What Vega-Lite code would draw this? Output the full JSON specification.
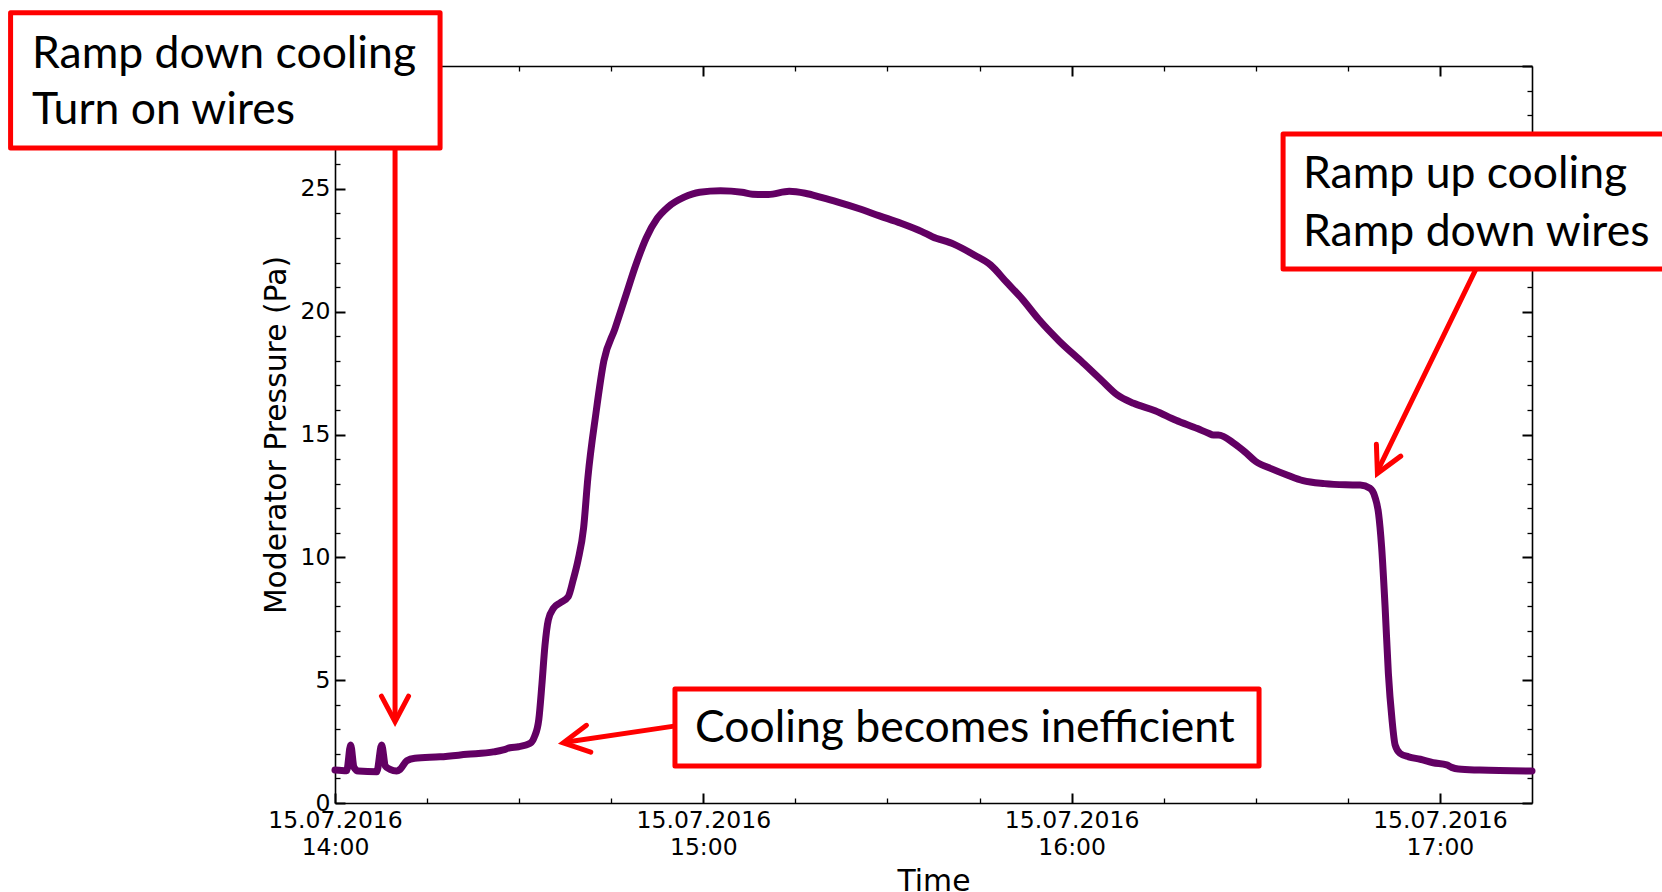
{
  "$schema": "https://vega.github.io/schema/vega-lite/v6.json",
  "autosize": {"type": "none"},
  "padding": {"left": 335, "top": 66, "right": 130, "bottom": 89},
  "width": 1197,
  "height": 737,
  "background": "white",
  "config": {
    "view": {"stroke": null},
    "font": "DejaVu Sans",
    "axis": {
      "grid": false,
      "domainColor": "black",
      "domainWidth": 1.6,
      "tickColor": "black",
      "labelColor": "black",
      "titleColor": "black",
      "labelFont": "DejaVu Sans",
      "titleFont": "DejaVu Sans",
      "labelFontSize": 23.5,
      "titleFontSize": 29.8,
      "titleFontWeight": "normal",
      "labelFlush": false,
      "labelOverlap": false,
      "labelBound": false
    }
  },
  "datasets": {
    "curve": [
      {"t": "2016-07-15T14:00:00", "v": 1.34},
      {"t": "2016-07-15T14:01:54", "v": 1.31},
      {"t": "2016-07-15T14:02:33", "v": 2.36},
      {"t": "2016-07-15T14:03:06", "v": 1.45},
      {"t": "2016-07-15T14:03:48", "v": 1.30},
      {"t": "2016-07-15T14:06:48", "v": 1.27},
      {"t": "2016-07-15T14:07:36", "v": 2.36},
      {"t": "2016-07-15T14:08:12", "v": 1.51},
      {"t": "2016-07-15T14:08:58", "v": 1.37},
      {"t": "2016-07-15T14:10:03", "v": 1.30},
      {"t": "2016-07-15T14:10:36", "v": 1.37},
      {"t": "2016-07-15T14:11:42", "v": 1.72},
      {"t": "2016-07-15T14:13:00", "v": 1.82},
      {"t": "2016-07-15T14:17:06", "v": 1.88},
      {"t": "2016-07-15T14:21:30", "v": 1.98},
      {"t": "2016-07-15T14:25:48", "v": 2.08},
      {"t": "2016-07-15T14:27:24", "v": 2.16},
      {"t": "2016-07-15T14:28:30", "v": 2.25},
      {"t": "2016-07-15T14:29:54", "v": 2.29},
      {"t": "2016-07-15T14:31:48", "v": 2.43},
      {"t": "2016-07-15T14:32:30", "v": 2.70},
      {"t": "2016-07-15T14:33:12", "v": 3.40},
      {"t": "2016-07-15T14:33:42", "v": 4.80},
      {"t": "2016-07-15T14:34:12", "v": 6.40},
      {"t": "2016-07-15T14:34:45", "v": 7.45},
      {"t": "2016-07-15T14:35:36", "v": 7.93},
      {"t": "2016-07-15T14:36:42", "v": 8.15},
      {"t": "2016-07-15T14:38:00", "v": 8.40},
      {"t": "2016-07-15T14:38:48", "v": 9.08},
      {"t": "2016-07-15T14:39:36", "v": 9.89},
      {"t": "2016-07-15T14:40:30", "v": 11.2},
      {"t": "2016-07-15T14:41:12", "v": 13.25},
      {"t": "2016-07-15T14:42:30", "v": 15.85},
      {"t": "2016-07-15T14:43:48", "v": 18.0},
      {"t": "2016-07-15T14:45:36", "v": 19.3},
      {"t": "2016-07-15T14:47:18", "v": 20.6},
      {"t": "2016-07-15T14:49:00", "v": 21.9},
      {"t": "2016-07-15T14:50:42", "v": 23.0},
      {"t": "2016-07-15T14:52:30", "v": 23.8},
      {"t": "2016-07-15T14:54:12", "v": 24.25},
      {"t": "2016-07-15T14:56:48", "v": 24.65},
      {"t": "2016-07-15T14:59:24", "v": 24.86},
      {"t": "2016-07-15T15:02:48", "v": 24.92},
      {"t": "2016-07-15T15:06:18", "v": 24.86},
      {"t": "2016-07-15T15:08:00", "v": 24.78},
      {"t": "2016-07-15T15:10:36", "v": 24.77},
      {"t": "2016-07-15T15:14:00", "v": 24.9},
      {"t": "2016-07-15T15:16:36", "v": 24.82},
      {"t": "2016-07-15T15:19:12", "v": 24.65},
      {"t": "2016-07-15T15:21:48", "v": 24.47},
      {"t": "2016-07-15T15:25:18", "v": 24.2},
      {"t": "2016-07-15T15:28:42", "v": 23.9},
      {"t": "2016-07-15T15:32:12", "v": 23.6},
      {"t": "2016-07-15T15:35:36", "v": 23.26},
      {"t": "2016-07-15T15:37:18", "v": 23.05},
      {"t": "2016-07-15T15:40:48", "v": 22.75},
      {"t": "2016-07-15T15:44:12", "v": 22.3},
      {"t": "2016-07-15T15:46:48", "v": 21.9},
      {"t": "2016-07-15T15:49:24", "v": 21.2},
      {"t": "2016-07-15T15:52:00", "v": 20.5},
      {"t": "2016-07-15T15:54:36", "v": 19.7},
      {"t": "2016-07-15T15:58:00", "v": 18.8},
      {"t": "2016-07-15T16:01:30", "v": 18.0},
      {"t": "2016-07-15T16:04:54", "v": 17.2},
      {"t": "2016-07-15T16:07:30", "v": 16.6},
      {"t": "2016-07-15T16:10:06", "v": 16.27},
      {"t": "2016-07-15T16:13:36", "v": 15.97},
      {"t": "2016-07-15T16:17:00", "v": 15.58},
      {"t": "2016-07-15T16:20:30", "v": 15.24},
      {"t": "2016-07-15T16:22:12", "v": 15.06},
      {"t": "2016-07-15T16:23:06", "v": 14.98},
      {"t": "2016-07-15T16:23:54", "v": 14.98},
      {"t": "2016-07-15T16:26:30", "v": 14.63},
      {"t": "2016-07-15T16:28:12", "v": 14.3},
      {"t": "2016-07-15T16:30:00", "v": 13.9},
      {"t": "2016-07-15T16:32:36", "v": 13.6},
      {"t": "2016-07-15T16:35:12", "v": 13.34},
      {"t": "2016-07-15T16:37:42", "v": 13.12},
      {"t": "2016-07-15T16:41:12", "v": 13.0},
      {"t": "2016-07-15T16:44:36", "v": 12.95},
      {"t": "2016-07-15T16:47:00", "v": 12.94},
      {"t": "2016-07-15T16:48:36", "v": 12.81},
      {"t": "2016-07-15T16:49:24", "v": 12.47},
      {"t": "2016-07-15T16:50:00", "v": 11.79},
      {"t": "2016-07-15T16:50:30", "v": 10.43},
      {"t": "2016-07-15T16:51:04", "v": 7.99},
      {"t": "2016-07-15T16:51:36", "v": 5.28},
      {"t": "2016-07-15T16:52:12", "v": 3.38},
      {"t": "2016-07-15T16:52:42", "v": 2.36},
      {"t": "2016-07-15T16:53:30", "v": 2.02},
      {"t": "2016-07-15T16:54:54", "v": 1.88},
      {"t": "2016-07-15T16:56:48", "v": 1.78},
      {"t": "2016-07-15T16:58:54", "v": 1.64},
      {"t": "2016-07-15T17:01:06", "v": 1.55},
      {"t": "2016-07-15T17:01:54", "v": 1.45},
      {"t": "2016-07-15T17:03:00", "v": 1.38},
      {"t": "2016-07-15T17:06:30", "v": 1.34},
      {"t": "2016-07-15T17:15:00", "v": 1.30}
    ],
    "boxes": [
      {"t": "2016-07-15T13:07:09", "t2": "2016-07-15T14:17:07", "v": 32.17, "v2": 26.66},
      {"t": "2016-07-15T14:55:23", "t2": "2016-07-15T16:30:32", "v": 4.64, "v2": 1.51},
      {"t": "2016-07-15T16:34:27", "t2": "2016-07-15T17:50:00", "v": 27.23, "v2": 21.74}
    ],
    "labels": [
      {"t": "2016-07-15T13:10:38", "v": 30.44, "text": "Ramp down cooling"},
      {"t": "2016-07-15T13:10:38", "v": 28.16, "text": "Turn on wires"},
      {"t": "2016-07-15T14:58:39", "v": 3.0, "text": "Cooling becomes inefficient"},
      {"t": "2016-07-15T16:37:42", "v": 25.55, "text": "Ramp up cooling"},
      {"t": "2016-07-15T16:37:42", "v": 23.19, "text": "Ramp down wires"}
    ],
    "arrows": [
      {"id": "a1s", "o": 1, "t": "2016-07-15T14:09:47", "v": 26.66},
      {"id": "a1s", "o": 2, "t": "2016-07-15T14:09:47", "v": 3.5},
      {"id": "a1h", "o": 1, "t": "2016-07-15T14:07:34", "v": 4.35},
      {"id": "a1h", "o": 2, "t": "2016-07-15T14:09:47", "v": 3.31},
      {"id": "a1h", "o": 3, "t": "2016-07-15T14:11:59", "v": 4.35},
      {"id": "a2s", "o": 1, "t": "2016-07-15T14:55:14", "v": 3.13},
      {"id": "a2s", "o": 2, "t": "2016-07-15T14:37:30", "v": 2.47},
      {"id": "a2h", "o": 1, "t": "2016-07-15T14:40:58", "v": 3.16},
      {"id": "a2h", "o": 2, "t": "2016-07-15T14:37:11", "v": 2.45},
      {"id": "a2h", "o": 3, "t": "2016-07-15T14:41:40", "v": 2.07},
      {"id": "a3s", "o": 1, "t": "2016-07-15T17:05:53", "v": 21.74},
      {"id": "a3s", "o": 2, "t": "2016-07-15T16:50:00", "v": 13.6},
      {"id": "a3h", "o": 1, "t": "2016-07-15T16:49:39", "v": 14.60},
      {"id": "a3h", "o": 2, "t": "2016-07-15T16:49:49", "v": 13.42},
      {"id": "a3h", "o": 3, "t": "2016-07-15T16:53:37", "v": 14.12}
    ]
  },
  "resolve": {"axis": {"x": "independent", "y": "independent"}},
  "layer": [
    {
      "data": {"name": "curve"},
      "mark": {"type": "line", "color": "#620063", "strokeWidth": 7, "interpolate": "monotone", "strokeCap": "round", "strokeJoin": "round"},
      "encoding": {
        "x": {
          "field": "t", "type": "temporal",
          "scale": {"domain": [{"year": 2016, "month": 7, "date": 15, "hours": 14}, {"year": 2016, "month": 7, "date": 15, "hours": 17, "minutes": 15}], "nice": false},
          "axis": {
            "orient": "bottom", "title": "Time",
            "values": [
              {"year": 2016, "month": 7, "date": 15, "hours": 14},
              {"year": 2016, "month": 7, "date": 15, "hours": 15},
              {"year": 2016, "month": 7, "date": 15, "hours": 16},
              {"year": 2016, "month": 7, "date": 15, "hours": 17}
            ],
            "labelExpr": "[timeFormat(datum.value, '%d.%m.%Y'), timeFormat(datum.value, '%H:%M')]",
            "labelLineHeight": 27,
            "tickSize": -10, "tickWidth": 2, "labelPadding": 15.5,
            "titlePadding": 7, "domain": true
          }
        },
        "y": {
          "field": "v", "type": "quantitative",
          "scale": {"domain": [0, 30], "nice": false},
          "axis": {
            "orient": "left", "title": "Moderator Pressure (Pa)",
            "values": [0, 5, 10, 15, 20, 25, 30],
            "labelExpr": "datum.value == 30 ? '' : datum.label",
            "tickSize": -10, "tickWidth": 2, "labelPadding": 15,
            "titlePadding": 9, "domain": true
          }
        }
      }
    },
    {
      "data": {"name": "arrows"},
      "mark": {"type": "line", "color": "#ff0000", "strokeWidth": 5, "strokeCap": "round", "strokeJoin": "miter", "interpolate": "linear"},
      "encoding": {
        "x": {
          "field": "t", "type": "temporal",
          "axis": {
            "orient": "top", "title": null, "labels": false, "domain": false,
            "values": [
              {"year": 2016, "month": 7, "date": 15, "hours": 14, "minutes": 15},
              {"year": 2016, "month": 7, "date": 15, "hours": 14, "minutes": 30},
              {"year": 2016, "month": 7, "date": 15, "hours": 14, "minutes": 45},
              {"year": 2016, "month": 7, "date": 15, "hours": 15, "minutes": 15},
              {"year": 2016, "month": 7, "date": 15, "hours": 15, "minutes": 30},
              {"year": 2016, "month": 7, "date": 15, "hours": 15, "minutes": 45},
              {"year": 2016, "month": 7, "date": 15, "hours": 16, "minutes": 15},
              {"year": 2016, "month": 7, "date": 15, "hours": 16, "minutes": 30},
              {"year": 2016, "month": 7, "date": 15, "hours": 16, "minutes": 45}
            ],
            "tickSize": -5, "tickWidth": 1.3
          }
        },
        "y": {
          "field": "v", "type": "quantitative",
          "axis": {
            "orient": "right", "title": null, "labels": false, "domain": false,
            "values": [1, 2, 3, 4, 6, 7, 8, 9, 11, 12, 13, 14, 16, 17, 18, 19, 21, 22, 23, 24, 26, 27, 28, 29],
            "tickSize": -5, "tickWidth": 1.3
          }
        },
        "detail": {"field": "id"},
        "order": {"field": "o", "type": "quantitative"}
      }
    },
    {
      "data": {"name": "boxes"},
      "mark": {"type": "rect", "fill": "white", "stroke": "#ff0000", "strokeWidth": 5, "strokeJoin": "round"},
      "encoding": {
        "x": {
          "field": "t", "type": "temporal",
          "axis": {
            "orient": "bottom", "title": null, "labels": false, "domain": false,
            "values": [
              {"year": 2016, "month": 7, "date": 15, "hours": 14, "minutes": 15},
              {"year": 2016, "month": 7, "date": 15, "hours": 14, "minutes": 30},
              {"year": 2016, "month": 7, "date": 15, "hours": 14, "minutes": 45},
              {"year": 2016, "month": 7, "date": 15, "hours": 15, "minutes": 15},
              {"year": 2016, "month": 7, "date": 15, "hours": 15, "minutes": 30},
              {"year": 2016, "month": 7, "date": 15, "hours": 15, "minutes": 45},
              {"year": 2016, "month": 7, "date": 15, "hours": 16, "minutes": 15},
              {"year": 2016, "month": 7, "date": 15, "hours": 16, "minutes": 30},
              {"year": 2016, "month": 7, "date": 15, "hours": 16, "minutes": 45}
            ],
            "tickSize": -5, "tickWidth": 1.3
          }
        },
        "x2": {"field": "t2"},
        "y": {
          "field": "v", "type": "quantitative",
          "axis": {
            "orient": "left", "title": null, "labels": false, "domain": false,
            "values": [1, 2, 3, 4, 6, 7, 8, 9, 11, 12, 13, 14, 16, 17, 18, 19, 21, 22, 23, 24, 26, 27, 28, 29],
            "tickSize": -5, "tickWidth": 1.3
          }
        },
        "y2": {"field": "v2"}
      }
    },
    {
      "data": {"name": "labels"},
      "mark": {"type": "text", "align": "left", "baseline": "middle", "font": "Lato", "fontSize": 44.5, "color": "black"},
      "encoding": {
        "x": {
          "field": "t", "type": "temporal",
          "axis": {
            "orient": "top", "title": null, "labels": false, "domain": true,
            "values": [
              {"year": 2016, "month": 7, "date": 15, "hours": 14},
              {"year": 2016, "month": 7, "date": 15, "hours": 15},
              {"year": 2016, "month": 7, "date": 15, "hours": 16},
              {"year": 2016, "month": 7, "date": 15, "hours": 17}
            ],
            "tickSize": -10, "tickWidth": 2
          }
        },
        "y": {
          "field": "v", "type": "quantitative",
          "axis": {
            "orient": "right", "title": null, "labels": false, "domain": true,
            "values": [0, 5, 10, 15, 20, 25, 30],
            "tickSize": -10, "tickWidth": 2
          }
        },
        "text": {"field": "text"}
      }
    }
  ]
}
